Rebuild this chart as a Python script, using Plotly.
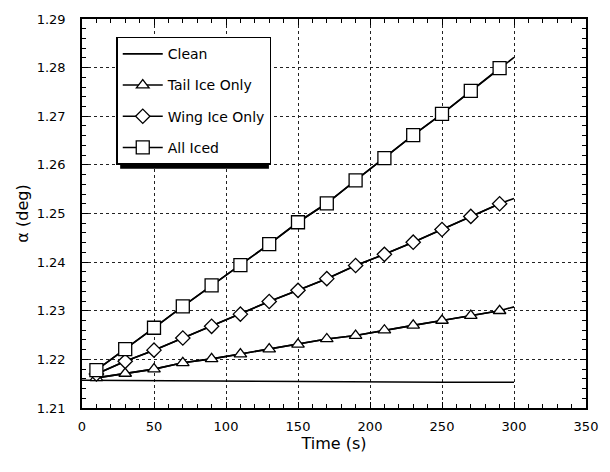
import plotly.graph_objects as go

# ---- data ----
t_markers = [10, 30, 50, 70, 90, 110, 130, 150, 170, 190, 210, 230, 250, 270, 290]
t_end = 300

clean_t = [0, 50, 100, 150, 200, 250, 300]
clean_a = [1.2157, 1.2156, 1.2155, 1.2154, 1.2154, 1.2153, 1.2153]

tail_a = [1.2162, 1.2171, 1.2180, 1.2193, 1.2201, 1.2211, 1.2221, 1.2231,
          1.2242, 1.2249, 1.2260, 1.2270, 1.2280, 1.2290, 1.2300]
tail_end = 1.2308

wing_a = [1.2170, 1.2196, 1.2219, 1.2244, 1.2268, 1.2293, 1.2319, 1.2342,
          1.2366, 1.2393, 1.2416, 1.2441, 1.2467, 1.2494, 1.2520]
wing_end = 1.2531

all_a = [1.2178, 1.2221, 1.2265, 1.2309, 1.2352, 1.2394, 1.2437, 1.2482,
         1.2521, 1.2568, 1.2614, 1.2661, 1.2705, 1.2752, 1.2799]
all_end = 1.2821

FONT = "DejaVu Sans"

fig = go.Figure()

line = dict(color="black", width=1.6)

fig.add_trace(go.Scatter(x=clean_t, y=clean_a, mode="lines", name="Clean",
                         line=line, legendgroup="a"))

def add_series(name, vals, end, symbol, size, group):
    xs = t_markers + [t_end]
    ys = vals + [end]
    fig.add_trace(go.Scatter(
        x=xs, y=ys, mode="lines", line=line, showlegend=False, hoverinfo="skip"))
    fig.add_trace(go.Scatter(
        x=t_markers, y=vals, mode="lines+markers", name=name, line=line,
        marker=dict(symbol=symbol, size=size, color="white",
                    line=dict(color="black", width=1.3)),
        legendgroup=group))

add_series("Tail Ice Only", tail_a, tail_end, "triangle-up", 11, "b")
add_series("Wing Ice Only", wing_a, wing_end, "diamond", 11, "c")
add_series("All Iced", all_a, all_end, "square", 13, "d")

axis_common = dict(
    showline=True, linecolor="black", linewidth=1.5, mirror="ticks",
    ticks="inside", ticklen=6, tickwidth=1.2, tickcolor="black",
    showgrid=True, gridcolor="#222", gridwidth=1, griddash="dot",
    zeroline=False,
    tickfont=dict(family=FONT, size=13, color="black"),
)

fig.update_xaxes(
    range=[0, 350], tickmode="linear", tick0=0, dtick=50,
    ticklabelstandoff=6,
    title=dict(text="Time (s)", font=dict(family=FONT, size=16, color="black"), standoff=0),
    minor=dict(dtick=10, ticks="inside", ticklen=4, tickwidth=1.2, tickcolor="black", showgrid=False),
    **axis_common)
fig.update_yaxes(
    range=[1.21, 1.29], tickmode="linear", tick0=1.21, dtick=0.01, tickformat=".2f",
    ticklabelstandoff=12,
    title=dict(text="α (deg)", font=dict(family=FONT, size=16, color="black"), standoff=4),
    minor=dict(dtick=0.002, ticks="inside", ticklen=4, tickwidth=1.2, tickcolor="black", showgrid=False),
    **axis_common)

# legend drop shadow (pixel -> paper)
def px_x(p):
    return (p - 82) / 515
def px_y(p):
    return (408 - p) / 395

fig.add_shape(type="rect", xref="paper", yref="paper",
              x0=px_x(121), x1=px_x(273), y0=px_y(165), y1=px_y(40),
              fillcolor="black", line=dict(width=0), layer="above")

fig.update_layout(
    width=610, height=472,
    margin=dict(l=82, r=13, t=13, b=64),
    paper_bgcolor="white", plot_bgcolor="white",
    font=dict(family=FONT, size=13, color="black"),
    showlegend=True,
    legend=dict(
        x=px_x(117), y=px_y(31), xanchor="left", yanchor="top",
        bgcolor="white", bordercolor="black", borderwidth=1.5,
        font=dict(family=FONT, size=14, color="black"),
        traceorder="grouped", tracegroupgap=10,
        itemwidth=40,
    ),
)

fig.write_html("out.html")
